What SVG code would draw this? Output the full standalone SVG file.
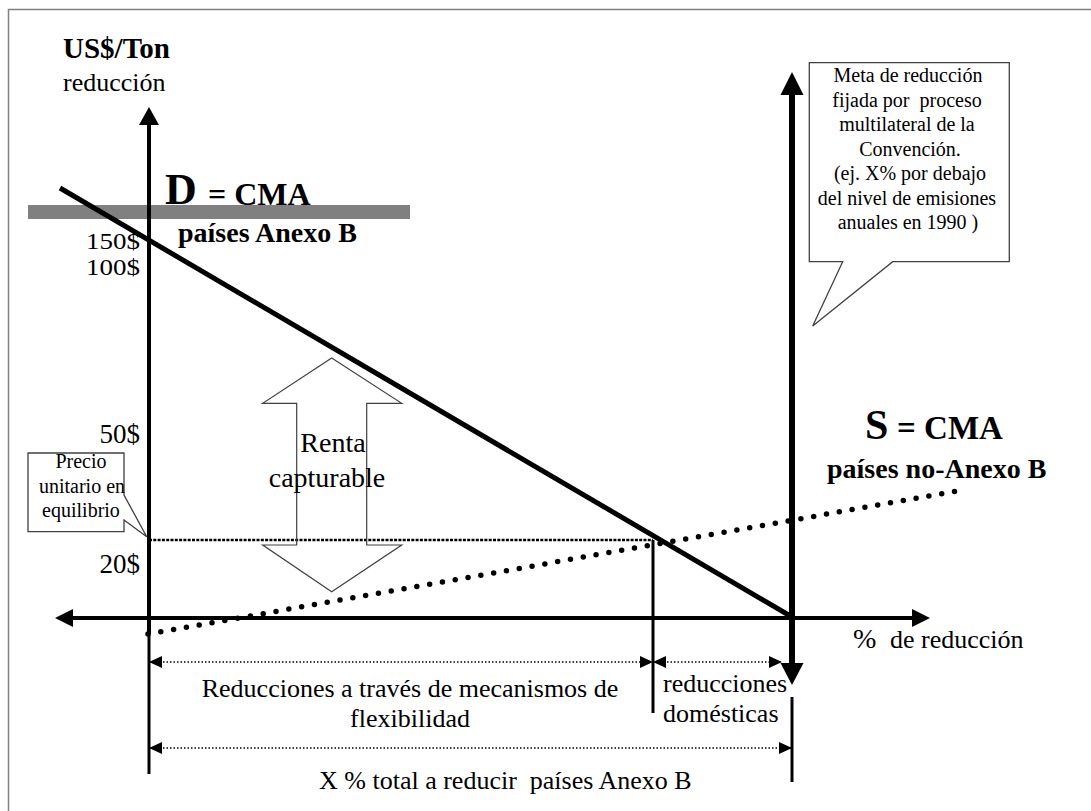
<svg xmlns="http://www.w3.org/2000/svg" width="1091" height="811" viewBox="0 0 1091 811">
  <style>
    text { font-family: "Liberation Serif", "Times New Roman", serif; fill: #000; }
    .b { font-weight: bold; }
    .pre { white-space: pre; }
    .mid { text-anchor: middle; }
    .end { text-anchor: end; }
    .shaft { stroke: #000; fill: none; }
    .head { fill: #000; stroke: none; }
    .thin { stroke: #000; stroke-width: 3; }
    .dim { stroke: #000; stroke-width: 1.5; stroke-dasharray: 1.5 2; fill: none; }
    .box { fill: #fff; stroke: #404040; stroke-width: 1.3; stroke-linejoin: miter; }
    .outline { fill: none; stroke: #404040; stroke-width: 1.2; }
  </style>
  <defs>
    <marker id="tri" viewBox="0 0 13 12" refX="13" refY="6" markerWidth="13" markerHeight="12" markerUnits="userSpaceOnUse" orient="auto-start-reverse">
      <path d="M0,0 L13,6 L0,12 Z" fill="#000"/>
    </marker>
  </defs>

  <!-- outer frame -->
  <rect x="8.5" y="9.5" width="1092" height="812" fill="#fff" stroke="#808080" stroke-width="1.5"/>

  <!-- grey band behind the demand label -->
  <rect id="band" x="28" y="205" width="382" height="14" fill="#808080"/>

  <g id="connectors">
    <!-- vertical price axis -->
    <line class="shaft" x1="149" y1="123" x2="149" y2="634" stroke-width="4"/>
    <polygon class="head" points="149,107 159,125 139,125"/>
    <line class="thin" x1="149" y1="634" x2="149" y2="774"/>

    <!-- horizontal reduction axis -->
    <line class="shaft" x1="70" y1="618" x2="915" y2="618" stroke-width="4"/>
    <polygon class="head" points="55,618 73,609 73,627"/>
    <polygon class="head" points="930,618 912,609 912,627"/>

    <!-- target line -->
    <line class="shaft" x1="792" y1="93" x2="792" y2="665" stroke-width="6"/>
    <polygon class="head" points="792,72 803.5,95 780.5,95"/>
    <polygon class="head" points="792,685 803.5,663 780.5,663"/>
    <line class="thin" x1="792" y1="697" x2="792" y2="782"/>

    <!-- demand curve -->
    <line x1="60" y1="188" x2="792" y2="617" stroke="#000" stroke-width="5"/>

    <!-- supply curve (dotted) -->
    <line x1="148" y1="634" x2="963" y2="490" stroke="#000" stroke-width="5.5" stroke-linecap="round" stroke-dasharray="0 13"/>

    <!-- equilibrium price line -->
    <line x1="149" y1="540" x2="653" y2="540" stroke="#000" stroke-width="2.5" stroke-dasharray="3 1.3"/>
    <line class="thin" x1="653" y1="540" x2="653" y2="713"/>

    <!-- dimension lines -->
    <line class="dim" x1="149" y1="662" x2="653" y2="662" marker-start="url(#tri)" marker-end="url(#tri)"/>
    <line class="dim" x1="653" y1="662" x2="782" y2="662" marker-start="url(#tri)" marker-end="url(#tri)"/>
    <line class="dim" x1="149" y1="748" x2="792" y2="748" marker-start="url(#tri)" marker-end="url(#tri)"/>
  </g>

  <!-- axis titles -->
  <g id="axis-y-title">
    <text class="b" x="63" y="58" font-size="29">US$/Ton</text>
    <text x="63" y="91" font-size="26">reducción</text>
  </g>
  <g id="axis-x-title">
    <text x="853" y="648" font-size="28">%</text>
    <text x="890" y="648" font-size="26">de reducción</text>
  </g>

  <!-- price ticks -->
  <g id="price-ticks">
    <text class="end" x="140" y="249" font-size="23" textLength="54" lengthAdjust="spacingAndGlyphs">150$</text>
    <text class="end" x="140" y="275" font-size="23" textLength="54" lengthAdjust="spacingAndGlyphs">100$</text>
    <text class="end" x="140" y="443" font-size="27">50$</text>
    <text class="end" x="140" y="573" font-size="27">20$</text>
  </g>

  <!-- demand label -->
  <g id="demand-label">
    <text class="b" x="165" y="204" font-size="44">D</text>
    <text class="b" x="208" y="205" font-size="32">= CMA</text>
    <text class="b" x="178" y="242" font-size="28">países Anexo B</text>
  </g>

  <!-- supply label -->
  <g id="supply-label">
    <text class="b" x="865" y="439" font-size="42">S</text>
    <text class="b" x="897" y="439" font-size="33">= CMA</text>
    <text class="b" x="827" y="478" font-size="28">países no-Anexo B</text>
  </g>

  <!-- double block arrow: capturable rent -->
  <g id="renta">
    <path class="outline" d="M331.7,358 L401.7,403.3 L366.7,403.3 L366.7,545 L401.7,545 L331.7,591.7 L262.7,545 L296.7,545 L296.7,403.3 L262.7,403.3 Z"/>
    <text class="mid" x="333" y="452" font-size="28">Renta</text>
    <text class="mid" x="327" y="487" font-size="28">capturable</text>
  </g>

  <!-- callout: equilibrium price -->
  <g id="precio">
    <path class="box" d="M28,453 L124,453 L124,495 L146.7,536.7 L124,520 L124,531.7 L28,531.7 Z"/>
    <text class="mid" x="81" y="468" font-size="20">Precio</text>
    <text class="mid" x="82" y="493" font-size="20">unitario en</text>
    <text class="mid" x="81" y="517" font-size="20">equilibrio</text>
  </g>

  <!-- callout: reduction target -->
  <g id="meta">
    <path class="box" d="M809.3,62.7 L1009.3,62.7 L1009.3,261.7 L892.7,261.7 L812.7,326 L842.7,261.7 L809.3,261.7 Z"/>
    <g class="mid" font-size="20">
      <text x="908" y="82">Meta de reducción</text>
      <text class="pre" x="907" y="106.5">fijada por  proceso</text>
      <text x="907" y="131">multilateral de la</text>
      <text x="910" y="155.5">Convención.</text>
      <text x="910" y="180">(ej. X% por debajo</text>
      <text x="907" y="204.5">del nivel de emisiones</text>
      <text x="908" y="229">anuales en 1990 )</text>
    </g>
  </g>

  <!-- dimension labels -->
  <g id="flex-label" font-size="26">
    <text class="mid" x="410" y="697">Reducciones a través de mecanismos de</text>
    <text class="mid" x="410" y="727">flexibilidad</text>
  </g>
  <g id="domestic-label" font-size="26">
    <text x="663" y="692">reducciones</text>
    <text x="663" y="722">domésticas</text>
  </g>
  <g id="total-label">
    <text class="pre" x="319" y="789" font-size="26">X % total a reducir  países Anexo B</text>
  </g>
</svg>
